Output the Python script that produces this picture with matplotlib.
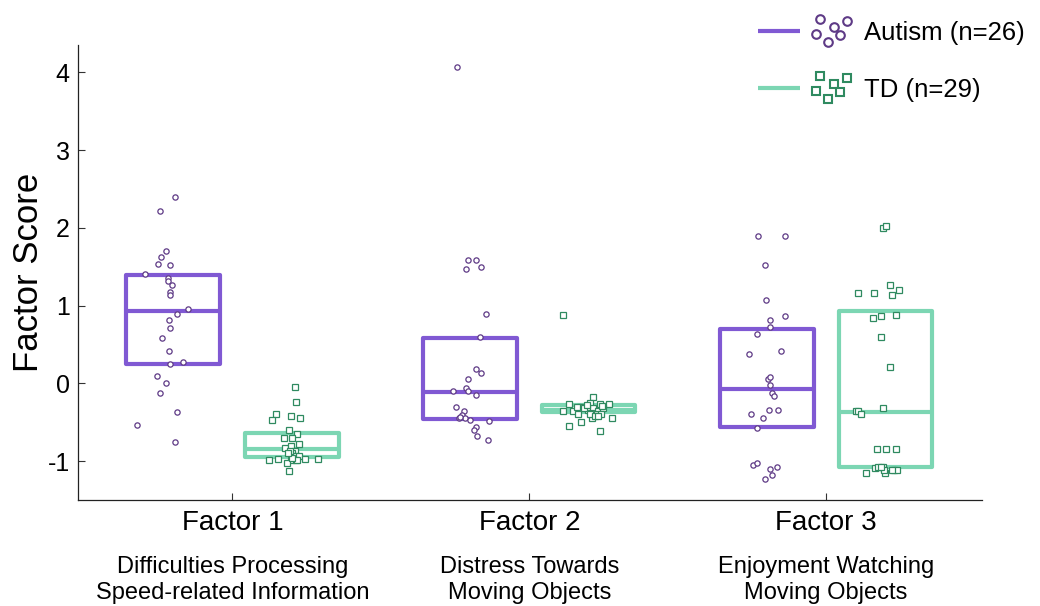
import matplotlib
matplotlib.use("Agg")
import matplotlib.pyplot as plt
from matplotlib.lines import Line2D
from matplotlib.patches import Rectangle
from matplotlib.legend_handler import HandlerBase
import matplotlib.transforms as mtransforms

plt.rcParams['font.family'] = ['Liberation Sans', 'DejaVu Sans']

# ---------------- data ----------------
factors = ['Factor 1', 'Factor 2', 'Factor 3']
descriptions = ['Difficulties Processing\nSpeed-related Information',
                'Distress Towards\nMoving Objects',
                'Enjoyment Watching\nMoving Objects']
group_labels = ['Autism (n=26)', 'TD (n=29)']

# box statistics (lower quartile, median, upper quartile)
autism_q1 = [0.255, -0.455, -0.557]
autism_med = [0.927, -0.115, -0.072]
autism_q3 = [1.39, 0.58, 0.70]
td_q1 = [-0.95, -0.368, -1.08]
td_med = [-0.845, -0.34, -0.364]
td_q3 = [-0.64, -0.278, 0.927]

# individual scores
autism_f1 = [2.40, 2.21, 1.70, 1.63, 1.54, 1.52, 1.40, 1.36, 1.31, 1.27, 1.17, 1.14, 0.96,
             0.89, 0.82, 0.71, 0.58, 0.42, 0.25, 0.28, 0.10, 0.01, -0.12, -0.37, -0.54, -0.75]
autism_f1_jit = [0.006, -0.045, -0.022, -0.040, -0.049, -0.009, -0.095, -0.018, -0.018, -0.003,
                 -0.009, -0.009, 0.051, 0.015, -0.013, -0.009, -0.036, -0.013, -0.009, 0.033,
                 -0.054, -0.022, -0.045, 0.015, -0.122, 0.006]
td_f1 = [-0.05, -0.24, -0.39, -0.47, -0.42, -0.45, -0.60, -0.65, -0.70, -0.70, -0.78, -0.83,
         -0.81, -0.87, -0.90, -0.94, -0.94, -0.99, -0.99, -1.03, -0.99, -0.97, -0.97, -0.97,
         -1.13, -0.87, -0.99, -0.96, -0.89]
td_f1_jit = [0.010, 0.014, -0.053, -0.068, -0.004, 0.028, -0.008, 0.019, -0.026, 0.001, 0.023,
             -0.022, -0.004, 0.010, 0.001, 0.015, 0.023, -0.004, 0.014, -0.017, -0.075, -0.048,
             0.046, 0.087, -0.008, -0.007, 0.018, 0.001, -0.014]

autism_f2 = [4.07, 1.59, 1.59, 1.47, 1.50, 0.89, 0.59, 0.19, 0.13, 0.06, -0.10, -0.06, -0.10,
             -0.15, -0.30, -0.35, -0.41, -0.45, -0.45, -0.47, -0.48, -0.56, -0.60, -0.68,
             -0.73, -0.43]
autism_f2_jit = [-0.043, -0.008, 0.021, -0.012, 0.038, 0.053, 0.034, 0.021, 0.038, -0.008,
                 -0.057, -0.012, -0.005, 0.021, -0.048, -0.021, -0.027, -0.038, -0.015, -0.001,
                 0.066, 0.021, 0.015, 0.025, 0.061, -0.032]
td_f2 = [0.875, -0.17, -0.27, -0.25, -0.30, -0.27, -0.27, -0.35, -0.36, -0.34, -0.32, -0.35,
         -0.32, -0.40, -0.38, -0.40, -0.39, -0.44, -0.45, -0.50, -0.55, -0.61, -0.32, -0.28,
         -0.39, -0.42, -0.42, -0.29, -0.31]
td_f2_jit = [-0.085, 0.016, -0.065, 0.006, -0.028, 0.039, 0.067, -0.053, -0.088, -0.001, 0.016,
             0.033, 0.050, -0.037, 0.009, 0.028, 0.040, 0.012, 0.079, -0.026, -0.065, 0.039,
             -0.017, -0.006, 0.003, 0.023, 0.033, 0.045, -0.039]

autism_f3 = [1.89, 1.90, 1.52, 1.07, 0.87, 0.81, 0.72, 0.64, 0.38, 0.41, 0.06, 0.08, -0.02,
             -0.12, -0.16, -0.39, -0.34, -0.34, -0.45, -0.57, -1.05, -1.03, -1.10, -1.08,
             -1.18, -1.23]
autism_f3_jit = [-0.029, 0.063, -0.005, -0.001, 0.063, 0.012, 0.012, -0.033, -0.060, 0.048,
                 0.004, 0.012, 0.012, 0.017, 0.026, -0.052, 0.008, 0.039, -0.011, -0.033,
                 -0.048, -0.033, 0.011, 0.036, 0.017, -0.005]
td_f3 = [2.00, 2.02, 1.27, 1.20, 1.14, 1.16, 1.16, 0.84, 0.86, 0.88, 0.59, 0.21, -0.32, -0.36,
         -0.35, -0.40, -0.85, -0.85, -0.85, -1.15, -1.09, -1.08, -1.08, -1.15, -1.11, -1.11,
         -1.11, -1.08, -1.11]
td_f3_jit = [-0.009, 0.000, 0.016, 0.045, 0.022, -0.092, -0.038, -0.043, -0.015, 0.036, -0.015,
             0.016, -0.010, -0.101, -0.092, -0.083, -0.028, 0.003, 0.035, -0.065, -0.037, -0.026,
             -0.007, -0.001, -0.004, 0.027, 0.038, -0.016, 0.021]

autism_scores = [autism_f1, autism_f2, autism_f3]
autism_jitter = [autism_f1_jit, autism_f2_jit, autism_f3_jit]
td_scores = [td_f1, td_f2, td_f3]
td_jitter = [td_f1_jit, td_f2_jit, td_f3_jit]

# ---------------- style ----------------
AUT_BOX = '#8059D3'
AUT_MK = '#5E3A86'
TD_BOX = '#7CD6B3'
TD_MK = '#2F8A60'
OFFSET = 0.2
BOXW = 0.315
BOX_LW = 3.0

fig = plt.figure(figsize=(10.4, 6.06), dpi=100)
ax = fig.add_axes([78 / 1040, 1 - 500 / 606, (982 - 78) / 1040, (500 - 45) / 606])


def draw_group(centers, q1, med, q3, scores, jitter, boxcol, mkcol, marker):
    for c, a, m, b, ys, js in zip(centers, q1, med, q3, scores, jitter):
        ax.add_patch(Rectangle((c - BOXW / 2, a), BOXW, b - a, fill=False, edgecolor=boxcol,
                               lw=BOX_LW, joinstyle='round', zorder=2))
        ax.plot([c - BOXW / 2, c + BOXW / 2], [m, m], color=boxcol, lw=BOX_LW,
                solid_capstyle='butt', zorder=2)
        xs = [c + j for j in js]
        ax.plot(xs, ys, ls='none', marker=marker, ms=3.8, mfc='white', mec=mkcol, mew=0.9,
                zorder=3)


pos = list(range(1, len(factors) + 1))
draw_group([p - OFFSET for p in pos], autism_q1, autism_med, autism_q3, autism_scores,
           autism_jitter, AUT_BOX, AUT_MK, 'o')
draw_group([p + OFFSET for p in pos], td_q1, td_med, td_q3, td_scores, td_jitter,
           TD_BOX, TD_MK, 's')

ax.set_xlim(0.48, 3.525)
ax.set_ylim(-1.5, 4.35)
ax.set_xticks(pos)
ax.set_xticklabels(factors, fontsize=20)
ax.set_yticks([-1, 0, 1, 2, 3, 4])
ax.set_yticklabels(['-1', '0', '1', '2', '3', '4'], fontsize=18)
ax.tick_params(direction='in', length=5, width=0.8, color='#333333')
ax.tick_params(axis='x', pad=7)
ax.tick_params(axis='y', pad=6)
for s in ['top', 'right']:
    ax.spines[s].set_visible(False)
for s in ['left', 'bottom']:
    ax.spines[s].set_linewidth(0.9)
    ax.spines[s].set_color('#222222')
ax.set_ylabel('Factor Score', fontsize=25, labelpad=2)

trans = mtransforms.blended_transform_factory(ax.transData, ax.transAxes)
for p, d in zip(pos, descriptions):
    ax.text(p, -0.122, d, transform=trans, ha='center', va='top', fontsize=17,
            linespacing=1.26)

# ---------------- legend ----------------
PX = 0.72  # pixel -> point
cluster_offsets = [(7, -12), (34, -10), (21, -4), (3, 3), (27, 4), (15, 11)]


class ClusterHandler(HandlerBase):
    def __init__(self, marker, mec):
        super().__init__()
        self.marker = marker
        self.mec = mec

    def create_artists(self, legend, orig_handle, xdescent, ydescent, width, height,
                       fontsize, trans):
        yc = height / 2 - ydescent
        x0 = -xdescent
        line = Line2D([x0, x0 + 42 * PX], [yc, yc], color=orig_handle.get_color(), lw=3,
                      solid_capstyle='butt', transform=trans)
        xs = [x0 + (55 + dx) * PX for dx, dy in cluster_offsets]
        ys = [yc - dy * PX for dx, dy in cluster_offsets]
        mk = Line2D(xs, ys, ls='none', marker=self.marker, ms=6.2, mfc='white', mec=self.mec,
                    mew=1.5, transform=trans)
        return [line, mk]


h_aut = Line2D([], [], color=AUT_BOX)
h_td = Line2D([], [], color=TD_BOX)
fs_leg = 18.5
leg = fig.legend([h_aut, h_td], group_labels, loc='upper left',
                 bbox_to_anchor=(758 / 1040, 1 - 21 / 606), frameon=False, fontsize=fs_leg,
                 handlelength=92 * PX / fs_leg, handletextpad=0.55, labelspacing=1.27,
                 borderpad=0, borderaxespad=0,
                 handler_map={h_aut: ClusterHandler('o', AUT_MK),
                              h_td: ClusterHandler('s', TD_MK)})

fig.savefig('out.png', dpi=100)
